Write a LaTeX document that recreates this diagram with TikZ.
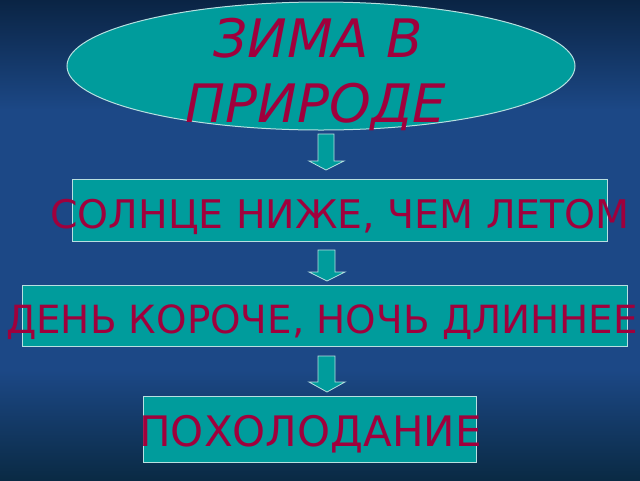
\documentclass[tikz,border=0pt]{standalone}
\usepackage{fontspec}
\setmainfont{DejaVu Sans}
\usetikzlibrary{shapes.geometric,shapes.arrows}
\definecolor{teal}{HTML}{009C9C}
\definecolor{rim}{HTML}{B8E0E0}
\definecolor{wine}{HTML}{A0003C}
\definecolor{bgtop}{HTML}{0A2444}
\definecolor{bgmid}{HTML}{1C4886}
\definecolor{bgbot}{HTML}{0A2A44}
\tikzset{
  box/.style={draw=rim, line width=1pt, fill=teal, inner sep=0pt},
  lbl/.style={text=wine, inner sep=0pt, anchor=base},
  dnarrow/.style={draw=rim, line width=0.8pt, fill=teal}
}
\begin{document}
\begin{tikzpicture}[x=1pt,y=-1pt]
\useasboundingbox (0,0) rectangle (640,480);
\shade[top color=bgtop, bottom color=bgmid] (0,0) rectangle (640,110);
\fill[bgmid] (0,109) rectangle (640,371);
\shade[top color=bgmid, bottom color=bgbot] (0,370) rectangle (640,480);
% ellipse
\node[ellipse, box, minimum width=508pt, minimum height=128pt] (top) at (321,66) {};
\node[lbl, font=\fontsize{53}{53}\selectfont\itshape] (t1) at (318,57) {ЗИМА В};
\node[lbl, font=\fontsize{53}{53}\selectfont\itshape] (t2) at (316,122) {ПРИРОДЕ};
% boxes
\node[box, minimum width=535pt, minimum height=62pt] (b1) at (339.5,210) {};
\node[lbl, font=\fontsize{39.4}{39.4}\selectfont] (l1) at (340,228) {СОЛНЦЕ НИЖЕ, ЧЕМ ЛЕТОМ};
\node[box, minimum width=605pt, minimum height=61pt] (b2) at (324.5,315.5) {};
\node[lbl, font=\fontsize{38.8}{38.8}\selectfont] (l2) at (322,333) {ДЕНЬ КОРОЧЕ, НОЧЬ ДЛИННЕЕ};
\node[box, minimum width=333pt, minimum height=66pt] (b3) at (309.5,429) {};
\node[lbl, font=\fontsize{42}{42}\selectfont] (l3) at (310.5,446) {ПОХОЛОДАНИЕ};
% arrows
\draw[dnarrow] (318,134) -- (334,134) -- (334,161) -- (344,161) -- (326,170) -- (309,161) -- (318,161) -- cycle;
\draw[dnarrow] (318,250) -- (335,250) -- (335,272) -- (345,272) -- (327,281) -- (309,272) -- (318,272) -- cycle;
\draw[dnarrow] (318,356) -- (335,356) -- (335,382) -- (345,382) -- (327,392) -- (309,382) -- (318,382) -- cycle;
\end{tikzpicture}
\end{document}
